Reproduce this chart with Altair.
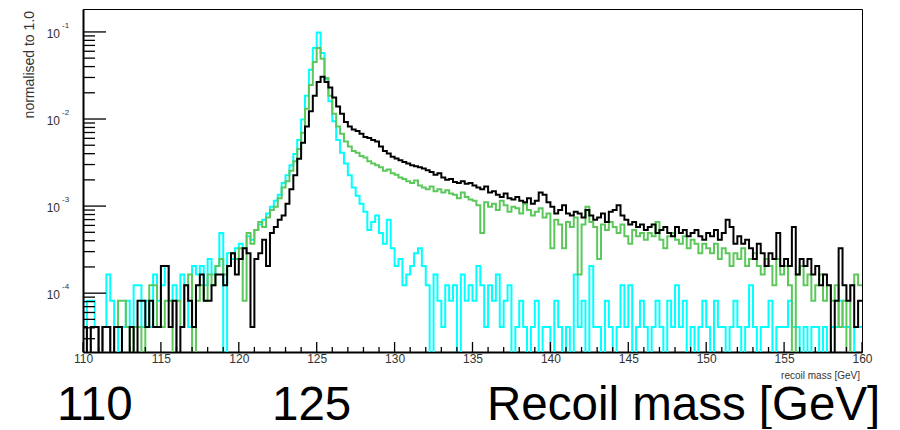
import altair as alt
import pandas as pd

FONT = "Liberation Sans"

# ---- histogram binning (bin low edges from 110 GeV, 0.25 GeV wide) ----
BIN_WIDTH = 0.25
X_MIN, X_MAX = 110.0, 160.0
ENTRY_WEIGHT = 4.1e-5          # normalised weight of one entry
Y_MIN, Y_MAX = 2.11e-5, 0.1834

# entries per bin
CYAN = [1, 2, 2, 1, 0, 1, 4, 2, 1, 0, 1, 2, 1, 3, 3, 1, 2, 1, 4, 2,
        3, 5, 2, 3, 2, 4, 3, 1, 5, 4, 5, 3, 6, 4, 5, 12, 0, 7, 6, 8,
        9, 8, 11, 10, 13, 15, 17, 20, 24, 28, 33, 45, 55, 72, 97, 140, 240, 450, 900, 1600,
        2400, 1400, 700, 390, 230, 140, 100, 75, 55, 40, 32, 26, 21, 13, 16, 19, 12, 9, 17, 8,
        5, 6, 3, 4, 5, 7, 8, 5, 3, 0, 4, 2, 1, 3, 2, 3, 0, 4, 2, 3,
        2, 5, 3, 1, 3, 2, 4, 1, 2, 3, 0, 1, 2, 1, 0, 1, 2, 0, 1, 1,
        0, 2, 1, 0, 1, 0, 4, 1, 2, 0, 5, 1, 1, 0, 2, 1, 0, 1, 3, 1,
        3, 0, 1, 2, 1, 0, 1, 2, 1, 0, 2, 1, 3, 1, 2, 0, 1, 0, 1, 2,
        1, 0, 2, 1, 1, 0, 1, 2, 1, 0, 1, 3, 1, 0, 1, 1, 2, 0, 1, 1,
        1, 2, 1, 1, 0, 1, 0, 1, 1, 0, 1, 0, 1, 1, 2, 1, 1, 0, 1, 1]

GREEN = [1, 0, 1, 1, 0, 1, 1, 0, 1, 2, 2, 1, 0, 1, 1, 0, 1, 3, 3, 1,
         1, 2, 2, 0, 2, 1, 3, 4, 0, 2, 3, 2, 4, 3, 5, 6, 4, 5, 7, 6,
         8, 2, 12, 9, 13, 16, 14, 18, 22, 24, 30, 40, 47, 62, 80, 110, 170, 320, 600, 1100,
         1600, 1200, 720, 450, 280, 200, 165, 135, 118, 105, 100, 92, 88, 80, 75, 72, 68, 62, 64, 58,
         56, 52, 50, 47, 45, 48, 42, 40, 38, 41, 36, 38, 35, 37, 34, 33, 30, 35, 31, 29,
         28, 25, 12, 27, 24, 26, 22, 28, 25, 21, 24, 23, 20, 26, 22, 19, 21, 23, 18, 20,
         8, 17, 15, 8, 16, 14, 18, 4, 15, 24, 16, 14, 6, 15, 13, 16, 14, 12, 15, 11,
         9, 13, 11, 12, 10, 12, 11, 16, 10, 8, 11, 12, 10, 9, 11, 8, 10, 9, 7, 9,
         8, 7, 9, 6, 8, 7, 5, 7, 6, 8, 5, 6, 7, 5, 4, 6, 5, 3, 6, 4,
         5, 3, 0, 4, 5, 3, 4, 2, 3, 4, 2, 3, 2, 3, 1, 2, 0, 3, 4, 3]

BLACK = [1, 0, 1, 1, 0, 1, 1, 0, 1, 1, 0, 0, 1, 0, 2, 2, 1, 2, 1, 1,
         5, 5, 1, 2, 0, 1, 3, 2, 1, 3, 4, 2, 2, 3, 4, 4, 3, 5, 7, 4,
         6, 8, 7, 1, 6, 7, 10, 5, 12, 14, 17, 19, 26, 38, 55, 85, 130, 200, 300, 450,
         650, 745, 650, 560, 430, 340, 280, 225, 200, 185, 178, 165, 152, 148, 140, 135, 118, 105, 98, 90,
         86, 82, 78, 75, 72, 70, 68, 66, 63, 60, 56, 58, 52, 49, 50, 46, 45, 47, 44, 45,
         42, 40, 38, 41, 35, 36, 33, 31, 34, 30, 29, 31, 28, 27, 30, 26, 28, 35, 33, 27,
         24, 20, 22, 25, 20, 19, 21, 20, 18, 22, 19, 17, 18, 20, 16, 21, 22, 25, 19, 17,
         15, 16, 14, 15, 13, 14, 15, 12, 13, 14, 12, 11, 14, 12, 13, 11, 12, 13, 11, 10,
         12, 11, 13, 10, 12, 17, 14, 9, 11, 9, 10, 8, 6, 9, 7, 5, 7, 6, 12, 5,
         6, 5, 14, 4, 6, 5, 6, 4, 5, 3, 4, 3, 0, 2, 8, 3, 2, 3, 1, 2]

SERIES_COLORS = {"cyan": "#00ffff", "green": "#5cc85c", "black": "#000000"}

X_TICK_LABELS = [110, 115, 120, 125, 130, 135, 140, 145, 150, 155, 160]
X_MINOR_TICKS = [v for v in range(111, 160) if v % 5 != 0]
Y_DECADES = [1e-4, 1e-3, 1e-2, 1e-1]
Y_DECADE_BASE = ["10", "10", "10", "10"]
Y_DECADE_EXP = ["-4", "-3", "-2", "-1"]
Y_MINOR_TICKS = [m * 10.0 ** e for e in (-5, -4, -3, -2) for m in range(2, 10)
                 if Y_MIN < m * 10.0 ** e < Y_MAX]

Y_TITLE = "normalised to 1.0"
X_TITLE = "recoil mass [GeV]"
BIG_LABELS = ["110", "125", "Recoil mass [GeV]"]

edges = [X_MIN + i * BIN_WIDTH for i in range(len(CYAN))] + [X_MAX]

xs = alt.Scale(domain=[X_MIN, X_MAX], nice=False, zero=False)
ys = alt.Scale(type="log", domain=[Y_MIN, Y_MAX], nice=False)

x_axis = alt.Axis(values=X_TICK_LABELS, format="d", ticks=False, grid=False,
                  domainColor="#000", domainWidth=2, labelFont=FONT,
                  labelFontSize=12, labelColor="#333", labelPadding=1,
                  labelFlush=False, title=None)
y_axis = alt.Axis(labels=False, ticks=False, grid=False, domainColor="#000",
                  domainWidth=2, title=None)


def X(field):
    return alt.X(field, scale=xs, axis=x_axis)


def Y(field):
    return alt.Y(field, scale=ys, axis=y_axis)


def hist_layer(counts, name):
    vals = [c * ENTRY_WEIGHT for c in counts] + [counts[-1] * ENTRY_WEIGHT]
    df = pd.DataFrame({"mass": edges, "value": vals})
    # empty bins fall to the bottom of the frame (as in a log-scale histogram)
    df["shown"] = df["value"].where(df["value"] > 0, 1e-7)
    return alt.Chart(df).mark_line(
        interpolate="step-after", clip=True, strokeWidth=2,
        color=SERIES_COLORS[name]
    ).encode(x=X("mass:Q"), y=Y("shown:Q"))


lines = [hist_layer(CYAN, "cyan"), hist_layer(GREEN, "green"), hist_layer(BLACK, "black")]

ymaj = alt.Chart(pd.DataFrame({"v": Y_DECADES, "base": Y_DECADE_BASE, "exp": Y_DECADE_EXP}))
ytick_major = ymaj.mark_rule(color="#000", strokeWidth=1.3).encode(
    y=Y("v:Q"), x=alt.value(0), x2=alt.value(23))
ytick_minor = alt.Chart(pd.DataFrame({"v": Y_MINOR_TICKS})).mark_rule(
    color="#000", strokeWidth=1.3).encode(
    y=Y("v:Q"), x=alt.value(0), x2=alt.value(12))
xtick_major = alt.Chart(pd.DataFrame({"v": X_TICK_LABELS})).mark_rule(
    color="#000", strokeWidth=1.3).encode(
    x=X("v:Q"), y=alt.value(343), y2=alt.value(333))
xtick_minor = alt.Chart(pd.DataFrame({"v": X_MINOR_TICKS})).mark_rule(
    color="#000", strokeWidth=1.3).encode(
    x=X("v:Q"), y=alt.value(343), y2=alt.value(338))

ylab = ymaj.mark_text(align="right", baseline="middle", font=FONT, fontSize=12,
                      color="#333", dy=2).encode(
    y=Y("v:Q"), x=alt.value(-23), text="base:N")
ysup = ymaj.mark_text(align="left", baseline="middle", font=FONT, fontSize=8,
                      color="#333", dy=-6).encode(
    y=Y("v:Q"), x=alt.value(-21), text="exp:N")

ytitle = alt.Chart(pd.DataFrame({"t": [Y_TITLE]})).mark_text(
    angle=270, align="right", baseline="middle", font=FONT, fontSize=14,
    color="#333").encode(x=alt.value(-53), y=alt.value(2), text="t:N")
xtitle = alt.Chart(pd.DataFrame({"t": [X_TITLE]})).mark_text(
    align="right", baseline="middle", font=FONT, fontSize=10,
    color="#333").encode(x=alt.value(777), y=alt.value(367), text="t:N")

big = []
for label, px in zip(BIG_LABELS, [-26, 189, 404]):
    big.append(alt.Chart(pd.DataFrame({"t": [label]})).mark_text(
        align="left", baseline="alphabetic", font=FONT, fontSize=47.5,
        color="#000").encode(x=alt.value(px), y=alt.value(411), text="t:N"))

chart = alt.layer(
    *lines, ytick_major, ytick_minor, xtick_major, xtick_minor,
    ylab, ysup, ytitle, xtitle, *big
).properties(
    width=779, height=343,
    autosize=alt.AutoSizeParams(type="none"),
    padding={"left": 75, "top": 1, "right": 30, "bottom": 77},
).configure_view(stroke="#000", strokeWidth=1)

chart.save("out.html", embed_options={"renderer": "svg", "actions": False})
